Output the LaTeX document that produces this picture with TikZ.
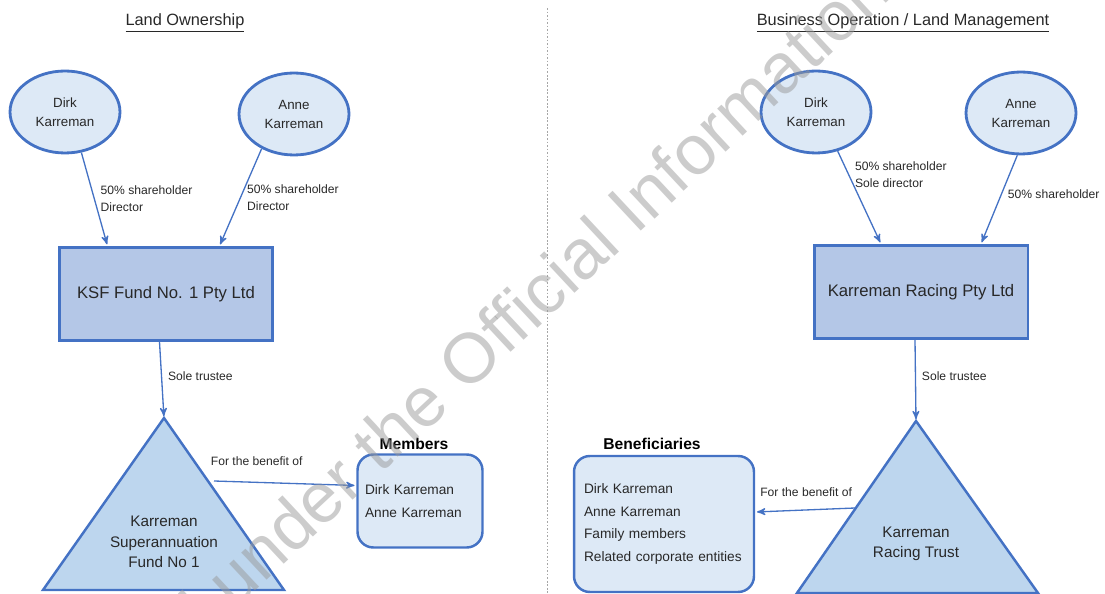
\documentclass[tikz,border=0pt]{standalone}
\usepackage{fontspec}
\setmainfont{Liberation Sans}
\usetikzlibrary{arrows,positioning,shapes.geometric}

\definecolor{lineblue}{RGB}{68,114,196}
\definecolor{palefill}{RGB}{221,233,246}
\definecolor{boxfill}{RGB}{180,199,231}
\definecolor{trifill}{RGB}{189,214,238}
\definecolor{inkgrey}{RGB}{40,40,40}

\begin{document}
\begin{tikzpicture}
	[x=0.02cm,y=-0.02cm,->,>=stealth',shorten >=1pt,
		person/.style={ellipse,draw=lineblue,fill=palefill,line width=1.6pt,minimum width=2.2cm,minimum height=1.64cm,align=center,text=inkgrey,font=\fontsize{7.6}{10.8}\selectfont},
		company/.style={rectangle,draw=lineblue,fill=boxfill,line width=1.7pt,minimum width=4.28cm,minimum height=1.86cm,text=inkgrey,font=\fontsize{9.5}{11}\selectfont},
		trust/.style={-,shorten >=0pt,draw=lineblue,fill=trifill,line width=1.4pt,line join=miter},
		trusttext/.style={align=center,text=inkgrey,font=\fontsize{8.7}{11.6}\selectfont},
		group/.style={rectangle,rounded corners=9pt,draw=lineblue,fill=palefill,line width=1.4pt,align=left,text=inkgrey,font=\fontsize{7.8}{13}\selectfont},
		head/.style={text=black,font=\bfseries\fontsize{8.9}{10}\selectfont},
		heading/.style={text=inkgrey,font=\fontsize{9.3}{11}\selectfont},
		link/.style={draw=lineblue,line width=0.75pt},
		lbl/.style={align=left,text=inkgrey,font=\fontsize{6.9}{9.6}\selectfont},
		divider/.style={-,shorten >=0pt,draw=gray!70,line width=0.5pt,dash pattern=on 1pt off 1pt},
		watermark/.style={text=black!40,text opacity=0.5,rotate=43,font=\fontsize{40}{40}\selectfont}]

	\useasboundingbox (0,0) rectangle (1105,594);

	% left half
	\node[heading] (landtitle) at (185,23) {\underline{Land Ownership}};
	\node[person]  (dirkL) at (65,112)  {Dirk\\Karreman};
	\node[person]  (anneL) at (294,114) {Anne\\Karreman};
	\node[company] (ksf)   at (166,294) {KSF Fund No. 1 Pty Ltd};

	\coordinate (superTop) at (164,418);
	\draw[trust] (superTop) -- (43,590) -- (284,590) -- cycle;
	\node[trusttext] (superfund) at (164,542) {Karreman\\Superannuation\\Fund No 1};
	\coordinate (superSide) at (214,481);

	\node[group,minimum width=2.5cm,minimum height=1.86cm,text width=2.2cm,inner xsep=0.15cm] (members) at (420,501) {Dirk Karreman\\Anne Karreman};
	\node[head] (memhead) at (414,444) {Members};

	% right half
	\node[heading] (biztitle) at (903,23) {\underline{Business Operation / Land Management}};
	\node[person]  (dirkR) at (816,112)  {Dirk\\Karreman};
	\node[person]  (anneR) at (1021,113) {Anne\\Karreman};
	\node[company] (racing) at (921,292) {Karreman Racing Pty Ltd};

	\coordinate (racingTop) at (916,421);
	\draw[trust] (racingTop) -- (797,593) -- (1038,593) -- cycle;
	\node[trusttext] (racingtrust) at (916,544) {Karreman\\Racing Trust};
	\coordinate (racingSide) at (855,508);

	\node[group,minimum width=3.6cm,minimum height=2.72cm,text width=3.2cm,inner xsep=0.2cm] (benef) at (664,524) {Dirk Karreman\\Anne Karreman\\Family members\\Related corporate entities};
	\node[head] (benhead) at (652,444) {Beneficiaries};

	\draw[divider] (547,8) -- (547,594);

	\path
	(dirkL.-68)  edge[link] node[lbl,pos=0.49,right] {50\% shareholder\\Director} ([xshift=-1.17cm]ksf.north)
	(anneL.-133) edge[link] node[lbl,pos=0.5,right] {50\% shareholder\\Director} ([xshift=1.07cm]ksf.north)
	([xshift=-0.13cm]ksf.south) edge[link] node[lbl,pos=0.45,right] {Sole trustee} (superTop)
	(superSide)  edge[link] node[lbl,pos=0.3,above=6pt] {For the benefit of} ([yshift=0.31cm]members.west)

	(dirkR.-61)  edge[link] node[lbl,pos=0.25,right] {50\% shareholder\\Sole director} ([xshift=-0.8cm]racing.north)
	(anneR.-95)  edge[link] node[lbl,pos=0.44,right] {50\% shareholder} ([xshift=1.2cm]racing.north)
	([xshift=-0.12cm]racing.south) edge[link] node[lbl,pos=0.45,right] {Sole trustee} (racingTop)
	(racingSide) edge[link] node[lbl,pos=0.49,above=4pt] {For the benefit of} ([yshift=0.24cm]benef.east)
	;

	\node[watermark] (stamp) at (476,351) {Released under the Official Information Act};

\end{tikzpicture}
\end{document}
